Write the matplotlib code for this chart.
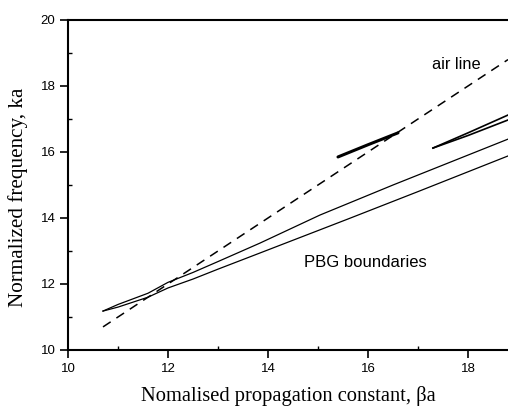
import matplotlib
matplotlib.use("Agg")
import matplotlib.pyplot as plt
from matplotlib.ticker import MultipleLocator

# air line (light line, ka = beta a)
air_x = [10.7, 18.8]
air_y = [10.7, 18.8]

# PBG boundaries
upper_x = [10.7, 11.0, 11.6, 12.0, 12.5, 13.0, 13.84, 15.04, 16.5, 18.8]
upper_y = [11.18, 11.38, 11.72, 12.05, 12.35, 12.68, 13.24, 14.09, 15.0, 16.39]
lower_x = [10.7, 11.0, 11.6, 12.0, 12.5, 13.0, 13.84, 15.6, 17.0, 18.8]
lower_y = [11.18, 11.3, 11.6, 11.88, 12.15, 12.45, 12.94, 13.97, 14.8, 15.88]

# guided mode segments inside the gap
mode1_x = [15.4, 16.0, 16.6]
mode1_y = [15.85, 16.22, 16.58]
mode2a_x = [17.3, 18.0, 18.8]
mode2a_y = [16.12, 16.58, 17.12]
mode2b_x = [17.3, 18.0, 18.8]
mode2b_y = [16.12, 16.5, 16.97]

fig = plt.figure(figsize=(5.08, 4.07), dpi=100)
ax = fig.add_axes([68 / 508, 57 / 407, 440 / 508, 330 / 407])

ax.plot(air_x, air_y, color="black", lw=1.1, ls=(0, (6, 4.5)))
ax.plot(upper_x, upper_y, color="black", lw=0.9)
ax.plot(lower_x, lower_y, color="black", lw=0.9)
ax.plot(mode1_x, mode1_y, color="black", lw=2.2, solid_capstyle="round")
ax.plot(mode2a_x, mode2a_y, color="black", lw=1.2)
ax.plot(mode2b_x, mode2b_y, color="black", lw=1.2)

ax.text(17.28, 18.64, "air line", fontsize=11.8, family="Liberation Sans", va="center")
ax.text(14.72, 12.64, "PBG boundaries", fontsize=12, family="Liberation Sans", va="center")

ax.set_xlim(10, 18.8)
ax.set_ylim(10, 20)
ax.xaxis.set_major_locator(MultipleLocator(2))
ax.xaxis.set_minor_locator(MultipleLocator(1))
ax.yaxis.set_major_locator(MultipleLocator(2))
ax.yaxis.set_minor_locator(MultipleLocator(1))
ax.tick_params(which="major", direction="out", length=6, width=1.2, labelsize=9.5, pad=3)
ax.tick_params(which="minor", direction="in", length=3, width=1.0)
for lab in ax.get_xticklabels() + ax.get_yticklabels():
    lab.set_family("Liberation Sans")

ax.spines["right"].set_visible(False)
for s in ["left", "bottom", "top"]:
    ax.spines[s].set_linewidth(1.5)

ax.set_xlabel("Nomalised propagation constant, \u03b2a", family="Liberation Serif",
              fontsize=14.8, labelpad=8)
ax.set_ylabel("Normalized frequency, ka", family="Liberation Serif", fontsize=15.2)
ax.yaxis.set_label_coords(-0.092, 0.464)

fig.savefig("out.png", dpi=100)
